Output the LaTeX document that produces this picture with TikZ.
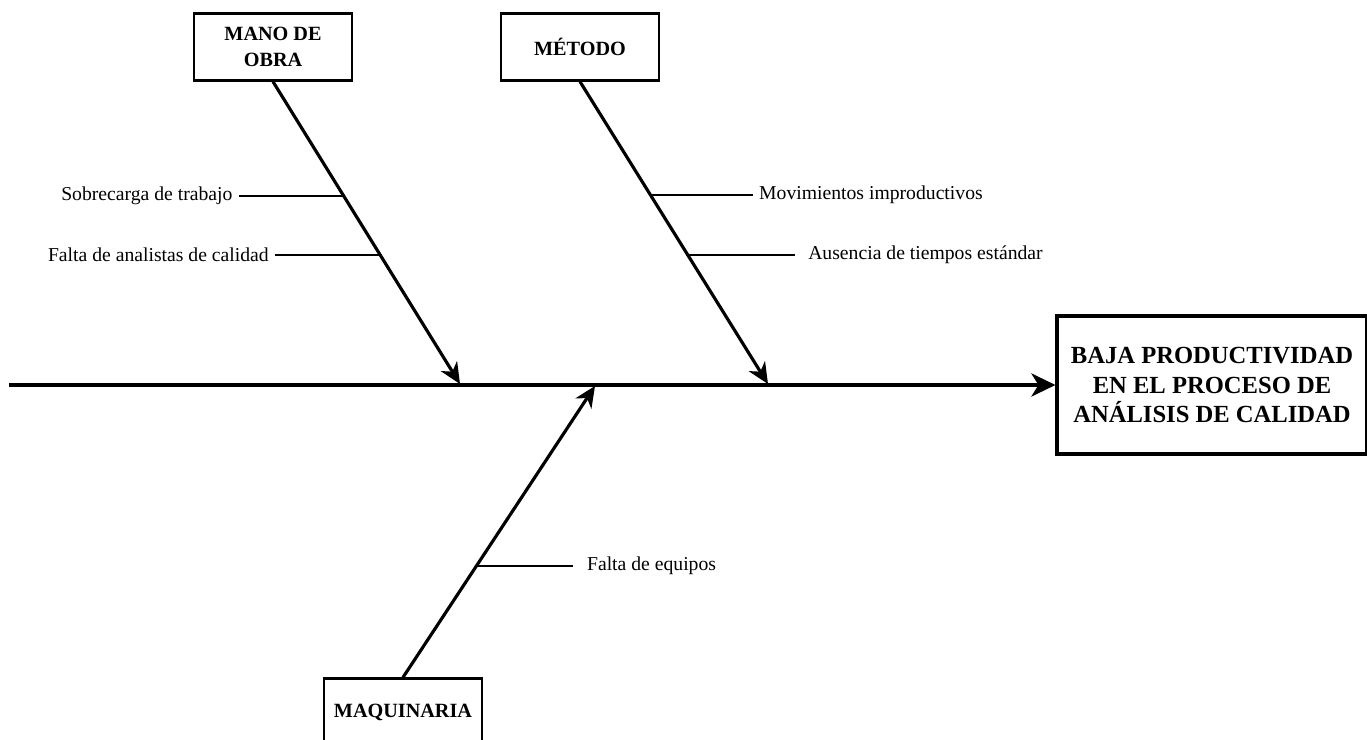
\documentclass[tikz,border=0pt]{standalone}
\usepackage{fontspec}
\setmainfont{Liberation Serif}
\usetikzlibrary{arrows.meta,calc,positioning}

\tikzset{
  causa/.style={draw,line width=1.3pt,align=center,inner sep=2pt,
    minimum width=3.16cm,minimum height=1.34cm,
    font=\bfseries\fontsize{11.5}{15}\selectfont},
  efecto/.style={draw,line width=1.8pt,align=center,
    minimum width=6.2cm,minimum height=2.76cm,
    font=\bfseries\fontsize{14}{16.6}\selectfont},
  subcausa/.style={font=\fontsize{11.2}{13}\selectfont},
  espinazo/.style={line width=2.3pt,-{Stealth[length=4.8mm,width=4.6mm,inset=1.4mm]}},
  espina/.style={line width=1.8pt,-{Stealth[length=4.2mm,width=3.8mm,inset=1.3mm]}},
  ramita/.style={line width=1.1pt}
}

\begin{document}
\begin{tikzpicture}[x=0.02cm,y=-0.02cm]
	\clip (0,0) rectangle (1367,740);
	% efecto
	\node[efecto] (efecto) at (1212,385) {BAJA PRODUCTIVIDAD\\EN EL PROCESO DE\\ANÁLISIS DE CALIDAD};
	\coordinate (cola) at (9,385);
	\draw[espinazo] (cola) -- (efecto.west);
	% causas
	\node[causa] (mano) at (273,47) {MANO DE\\OBRA};
	\node[causa] (metodo) at (580,47) {MÉTODO};
	\node[causa] (maquinaria) at (403,712) {MAQUINARIA};
	\coordinate (m1) at (460,384);
	\coordinate (m2) at (768,384);
	\coordinate (m3) at (595,386);
	\draw[espina] (mano.south) -- (m1);
	\draw[espina] (metodo.south) -- (m2);
	\draw[espina] (maquinaria.north) -- (m3);
	% subcausas
	\coordinate (r1) at ($(mano.south)!0.378!(m1)$);
	\coordinate (r2) at ($(mano.south)!0.572!(m1)$);
	\coordinate (r3) at ($(metodo.south)!0.375!(m2)$);
	\coordinate (r4) at ($(metodo.south)!0.572!(m2)$);
	\coordinate (r5) at ($(maquinaria.north)!0.382!(m3)$);
	\node[subcausa,left=2.1cm of r1] (s1) {Sobrecarga de trabajo};
	\node[subcausa,left=2.1cm of r2] (s2) {Falta de analistas de calidad};
	\node[subcausa,right=2.05cm of r3] (s3) {Movimientos improductivos};
	\node[subcausa,outer xsep=4.5pt,right=2.14cm of r4] (s4) {Ausencia de tiempos estándar};
	\node[subcausa,outer xsep=4.5pt,right=1.94cm of r5] (s5) {Falta de equipos};
	\draw[ramita] (s1) -- (r1);
	\draw[ramita] (s2) -- (r2);
	\draw[ramita] (s3) -- (r3);
	\draw[ramita] (s4) -- (r4);
	\draw[ramita] (s5) -- (r5);
\end{tikzpicture}
\end{document}
